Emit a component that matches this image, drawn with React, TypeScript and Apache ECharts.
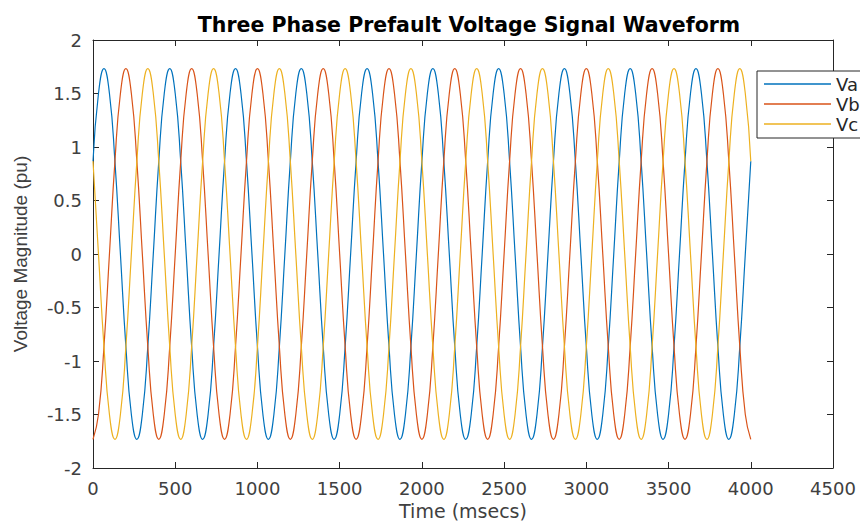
import React, { useEffect, useRef } from "react";
import * as echarts from "echarts";

// One period of each waveform (time in ms within the period, voltage in pu)
const periodTimes = [0, 33.3, 66.7, 100, 133.3, 166.7, 200, 233.3, 266.7, 300, 333.3, 366.7];
const vaPeriod = [0.866, 1.5, 1.732, 1.5, 0.866, 0, -0.866, -1.5, -1.732, -1.5, -0.866, 0];
const vbPeriod = [-1.732, -1.5, -0.866, 0, 0.866, 1.5, 1.732, 1.5, 0.866, 0, -0.866, -1.5];
const vcPeriod = [0.866, 0, -0.866, -1.5, -1.732, -1.5, -0.866, 0, 0.866, 1.5, 1.732, 1.5];
const PERIOD_MS = 400;
const CYCLES = 10;

const seriesNames = ["Va", "Vb", "Vc"];
const seriesColors = ["#0072BD", "#D95319", "#EDB120"];

const xTicks = [0, 500, 1000, 1500, 2000, 2500, 3000, 3500, 4000, 4500];
const yTicks = [-2, -1.5, -1, -0.5, 0, 0.5, 1, 1.5, 2];

function tile(period: number[]): [number, number][] {
  const out: [number, number][] = [];
  for (let c = 0; c < CYCLES; c++) {
    for (let i = 0; i < periodTimes.length; i++) {
      out.push([c * PERIOD_MS + periodTimes[i], period[i]]);
    }
  }
  out.push([CYCLES * PERIOD_MS, period[0]]);
  return out;
}

export default function App() {
  const ref = useRef<HTMLDivElement>(null);
  useEffect(() => {
    if (!ref.current) return;
    const chart = echarts.init(ref.current, undefined, { renderer: "svg" });
    const axisColor = "#262626";
    const labelColor = "#404040";
    const tickFont = "DejaVu Sans";
    const baseX = {
      type: "value" as const,
      min: xTicks[0],
      max: xTicks[xTicks.length - 1],
      interval: 500,
      splitLine: { show: false },
      axisLine: { show: true, onZero: false, lineStyle: { color: axisColor, width: 1 } },
      axisTick: { show: true, inside: true, length: 6, lineStyle: { color: axisColor } },
    };
    const baseY = {
      type: "value" as const,
      min: yTicks[0],
      max: yTicks[yTicks.length - 1],
      interval: 0.5,
      splitLine: { show: false },
      axisLine: { show: true, onZero: false, lineStyle: { color: axisColor, width: 1 } },
      axisTick: { show: true, inside: true, length: 6, lineStyle: { color: axisColor } },
    };
    const datasets = [vaPeriod, vbPeriod, vcPeriod];
    chart.setOption({
      animation: false,
      backgroundColor: "#ffffff",
      title: {
        text: "Three Phase Prefault Voltage Signal Waveform",
        left: 464,
        textAlign: "center",
        top: 9,
        textStyle: { fontFamily: "DejaVu Sans", fontSize: 20.5, fontWeight: "bold", color: "#000000" },
      },
      grid: { left: 93, right: 27, top: 40, bottom: 53, containLabel: false, outerBoundsMode: "none" },
      legend: {
        orient: "vertical",
        left: 757,
        top: 71,
        data: seriesNames.map((n) => ({ name: n, icon: "rect" })),
        itemWidth: 67,
        itemHeight: 1.4,
        itemGap: 2,
        padding: [4, 6, 5, 7],
        backgroundColor: "#ffffff",
        borderColor: axisColor,
        borderWidth: 1,
        borderRadius: 0,
        textStyle: { fontFamily: tickFont, fontSize: 18, color: axisColor, padding: [0, 0, 0, 0] },
      },
      xAxis: [
        {
          ...baseX,
          position: "bottom",
          name: "Time (msecs)",
          nameLocation: "middle",
          nameGap: 25,
          nameTextStyle: { fontFamily: tickFont, fontSize: 19, lineHeight: 19, color: labelColor },
          axisLabel: {
            show: true,
            margin: 11,
            fontFamily: tickFont,
            fontSize: 18,
            color: labelColor,
            formatter: (v: number) => String(v),
          },
        },
        { ...baseX, position: "top", axisLabel: { show: false } },
      ],
      yAxis: [
        {
          ...baseY,
          position: "left",
          name: "Voltage Magnitude (pu)",
          nameLocation: "middle",
          nameGap: 63,
          nameTextStyle: { fontFamily: "Liberation Sans", fontSize: 19, color: labelColor },
          axisLabel: {
            show: true,
            margin: 11,
            fontFamily: tickFont,
            fontSize: 18,
            color: labelColor,
            formatter: (v: number) => String(v),
          },
        },
        { ...baseY, position: "right", axisLabel: { show: false } },
      ],
      series: datasets.map((d, i) => ({
        name: seriesNames[i],
        type: "line",
        xAxisIndex: 0,
        yAxisIndex: 0,
        data: tile(d),
        symbol: "none",
        smooth: 0.5,
        lineStyle: { color: seriesColors[i], width: 1.2 },
        itemStyle: { color: seriesColors[i] },
      })),
    });
    return () => chart.dispose();
  }, []);
  return (
    <div
      ref={ref}
      style={{ position: "absolute", left: 0, top: 0, width: 860, height: 521 }}
    />
  );
}
